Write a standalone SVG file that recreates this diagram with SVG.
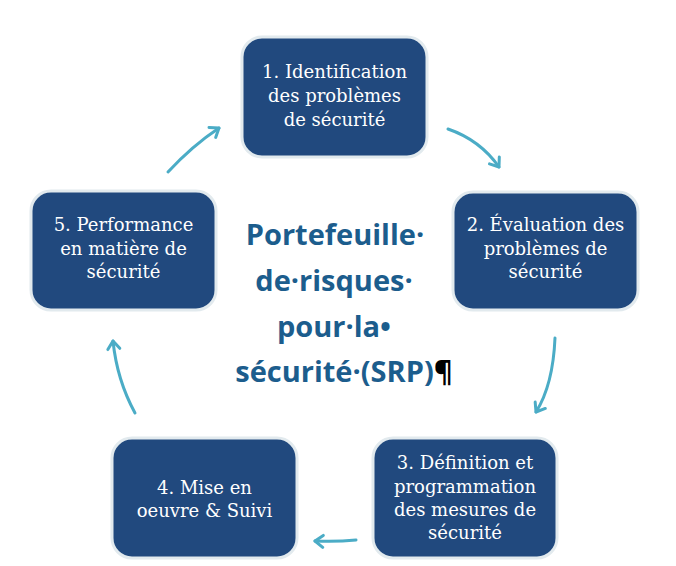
<svg xmlns="http://www.w3.org/2000/svg" width="676" height="566" viewBox="0 0 676 566">
<defs>
<style>
.box{fill:#21497E;stroke:#E2EAEE;stroke-width:3}
.bt{font-family:"DejaVu Serif","Liberation Serif",serif;font-size:18px;fill:#FFFFFF;text-anchor:middle}
.ct{font-family:"Open Sans","Liberation Sans",sans-serif;font-weight:bold;font-size:29px;fill:#1C5D8D;text-anchor:middle}
.arr{fill:none;stroke:#4BACC6;stroke-width:3;stroke-linecap:round;marker-end:url(#ah)}
</style>
<marker id="ah" markerUnits="userSpaceOnUse" markerWidth="16" markerHeight="16" refX="11" refY="8" orient="auto">
<path d="M3,2 L11,8 L3,14" fill="none" stroke="#4BACC6" stroke-width="3" stroke-linecap="round" stroke-linejoin="round"/>
</marker>
</defs>
<rect width="676" height="566" fill="#FFFFFF"/>
<g id="connectors">
<path class="arr" d="M448,129 Q480,140 499,167"/>
<path class="arr" d="M555,338 Q553,385 536,412"/>
<path class="arr" d="M356,540 Q336,542 315,541"/>
<path class="arr" d="M135,413 Q117,380 113,341"/>
<path class="arr" d="M168,172 Q192,146 219,128"/>
</g>
<g id="node1">
<rect class="box" x="242" y="37" width="185" height="120" rx="20"/>
<text class="bt"><tspan x="334.5" y="78">1. Identification</tspan><tspan x="334.5" y="102">des problèmes</tspan><tspan x="334.5" y="126">de sécurité</tspan></text>
</g>
<g id="node2">
<rect class="box" x="453" y="192" width="185" height="118" rx="20"/>
<text class="bt"><tspan x="545.5" y="231">2. Évaluation des</tspan><tspan x="545.5" y="255">problèmes de</tspan><tspan x="545.5" y="278">sécurité</tspan></text>
</g>
<g id="node3">
<rect class="box" x="373" y="438" width="184" height="120" rx="20"/>
<text class="bt"><tspan x="465" y="469">3. Définition et</tspan><tspan x="465" y="493">programmation</tspan><tspan x="465" y="516">des mesures de</tspan><tspan x="465" y="539">sécurité</tspan></text>
</g>
<g id="node4">
<rect class="box" x="112" y="438" width="185" height="120" rx="20"/>
<text class="bt"><tspan x="204.5" y="494">4. Mise en</tspan><tspan x="204.5" y="517">oeuvre &amp; Suivi</tspan></text>
</g>
<g id="node5">
<rect class="box" x="31" y="191" width="185" height="119" rx="20"/>
<text class="bt"><tspan x="123.5" y="231">5. Performance</tspan><tspan x="123.5" y="255">en matière de</tspan><tspan x="123.5" y="278">sécurité</tspan></text>
</g>
<g id="center">
<text class="ct"><tspan x="335" y="245">Portefeuille·</tspan><tspan x="334" y="291">de·risques·</tspan><tspan x="334" y="337">pour·la•</tspan><tspan x="344" y="382">sécurité·(SRP)<tspan fill="#000000">¶</tspan></tspan></text>
</g>
</svg>
